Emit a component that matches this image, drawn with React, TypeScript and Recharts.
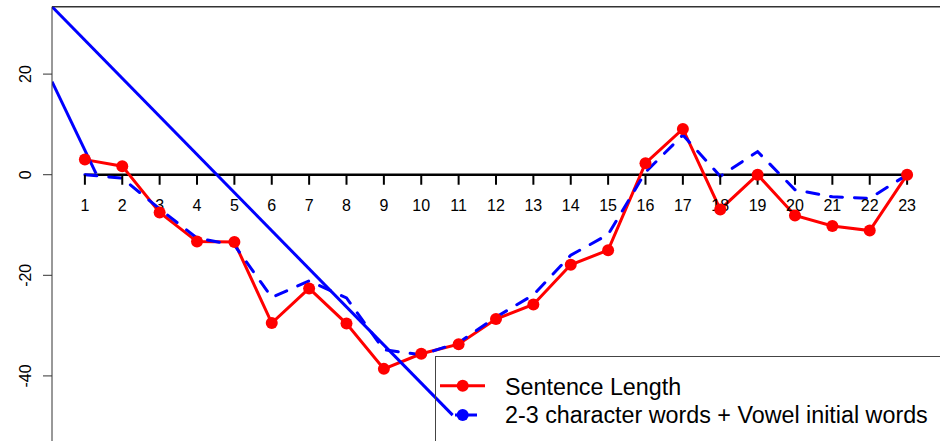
import React from 'react';
import { ComposedChart, Line, Scatter, XAxis, YAxis, ReferenceLine } from 'recharts';

// Position index along the text (1..23)
const positions = [1, 2, 3, 4, 5, 6, 7, 8, 9, 10, 11, 12, 13, 14, 15, 16, 17, 18, 19, 20, 21, 22, 23];

// Cumulative deviation: sentence length
const sentenceLength = [3, 1.7, -7.5, -13.3, -13.4, -29.5, -22.6, -29.6, -38.6, -35.6, -33.7, -28.7, -25.8, -17.9, -15.0, 2.3, 9.1, -6.9, 0, -8.1, -10.2, -11.1, 0];

// Cumulative deviation: 2-3 character words + vowel initial words
const vowelWords = [0, -0.7, -6.8, -12.6, -14.0, -24.4, -21.1, -24.5, -34.8, -35.8, -33.4, -28.3, -23.9, -16.0, -11.9, 0.5, 7.9, -0.3, 4.6, -3.0, -4.4, -4.7, 0];

// Two straight reference lines (end points in data units)
const steepLine = [{ x: 0.12, y: 18.5 }, { x: 1.3, y: 0.2 }];
const longLine = [{ x: 0.12, y: 33.4 }, { x: 10.84, y: -47.8 }];

const xTickLabels = ['1', '2', '3', '4', '5', '6', '7', '8', '9', '10', '11', '12', '13', '14', '15', '16', '17', '18', '19', '20', '21', '22', '23'];
const yTicks = [-40, -20, 0, 20];

const legendLabels = ['Sentence Length', '2-3 character words + Vowel initial words'];

const X_DOMAIN: [number, number] = [0.12, 23.88];
const Y_DOMAIN: [number, number] = [-52.94, 33.4];

const FONT = '"Liberation Sans", Arial, Helvetica, sans-serif';
const RED = '#ff0000';
const BLUE = '#0000ff';

const redData = positions.map((x, i) => ({ x, y: sentenceLength[i] }));
const blueData = positions.map((x, i) => ({ x, y: vowelWords[i] }));
const axisTicks = positions.map((x, i) => ({ x, y: 0, label: xTickLabels[i] }));

// Tick mark + number for the axis drawn through y = 0
const ZeroAxisTick = (props: any) => {
  const { cx, cy, payload } = props;
  if (cx == null || cy == null) return null;
  return (
    <g>
      <line x1={cx} y1={cy} x2={cx} y2={cy + 10} stroke="#000" strokeWidth={2} />
      <text x={cx} y={cy + 36.5} textAnchor="middle" fontFamily={FONT} fontSize={16} fill="#000">
        {payload.label}
      </text>
    </g>
  );
};

// Rotated y tick labels
const YTick = (props: any) => {
  const { y, payload } = props;
  const bx = 31;
  return (
    <text
      x={bx}
      y={y}
      transform={`rotate(-90, ${bx}, ${y})`}
      textAnchor="middle"
      fontFamily={FONT}
      fontSize={16}
      fill="#000"
    >
      {payload.value}
    </text>
  );
};

export default function App() {
  return (
    <div style={{ position: 'absolute', left: 0, top: 0, width: 940, height: 441, overflow: 'hidden', background: '#fff' }}>
      <ComposedChart width={940} height={441} margin={{ top: 6.7, right: 0, bottom: 0, left: 0 }}>
        <XAxis type="number" dataKey="x" domain={X_DOMAIN} allowDataOverflow hide height={0} />
        <YAxis
          type="number"
          dataKey="y"
          domain={Y_DOMAIN}
          allowDataOverflow
          ticks={yTicks}
          width={52}
          axisLine={{ stroke: '#333', strokeWidth: 1 }}
          tickLine={{ stroke: '#333', strokeWidth: 1 }}
          tickSize={9}
          tick={<YTick />}
          interval={0}
        />
        <ReferenceLine y={Y_DOMAIN[1]} stroke="#333" strokeWidth={1.5} />
        <ReferenceLine
          segment={[{ x: positions[0], y: 0 }, { x: positions[positions.length - 1], y: 0 }]}
          stroke="#000"
          strokeWidth={2.5}
        />
        <Scatter data={axisTicks} dataKey="y" shape={<ZeroAxisTick />} isAnimationActive={false} />
        <Line
          data={redData}
          dataKey="y"
          type="linear"
          stroke={RED}
          strokeWidth={3}
          dot={{ r: 6, fill: RED, stroke: RED, strokeWidth: 0 }}
          activeDot={false}
          isAnimationActive={false}
        />
        <Line
          data={blueData}
          dataKey="y"
          type="linear"
          stroke={BLUE}
          strokeWidth={3}
          strokeDasharray="12 12"
          strokeLinecap="round"
          dot={false}
          activeDot={false}
          isAnimationActive={false}
        />
        <Line data={steepLine} dataKey="y" type="linear" stroke={BLUE} strokeWidth={3} dot={false} activeDot={false} isAnimationActive={false} />
        <Line data={longLine} dataKey="y" type="linear" stroke={BLUE} strokeWidth={3} dot={false} activeDot={false} isAnimationActive={false} />
      </ComposedChart>
      <svg width={940} height={441} style={{ position: 'absolute', left: 0, top: 0, pointerEvents: 'none' }}>
        <rect x={435.5} y={356.5} width={600} height={120} fill="none" stroke="#444" strokeWidth={1} />
        <line x1={440} y1={385.7} x2={485} y2={385.7} stroke={RED} strokeWidth={3} />
        <circle cx={462.7} cy={385.7} r={6} fill={RED} />
        <text x={505} y={395} fontFamily={FONT} fontSize={23.3} fill="#000">{legendLabels[0]}</text>
        <line x1={455} y1={415} x2={477} y2={415} stroke={BLUE} strokeWidth={3} />
        <circle cx={462.7} cy={415} r={6} fill={BLUE} />
        <text x={505} y={423.3} fontFamily={FONT} fontSize={23.3} fill="#000">{legendLabels[1]}</text>
      </svg>
    </div>
  );
}
